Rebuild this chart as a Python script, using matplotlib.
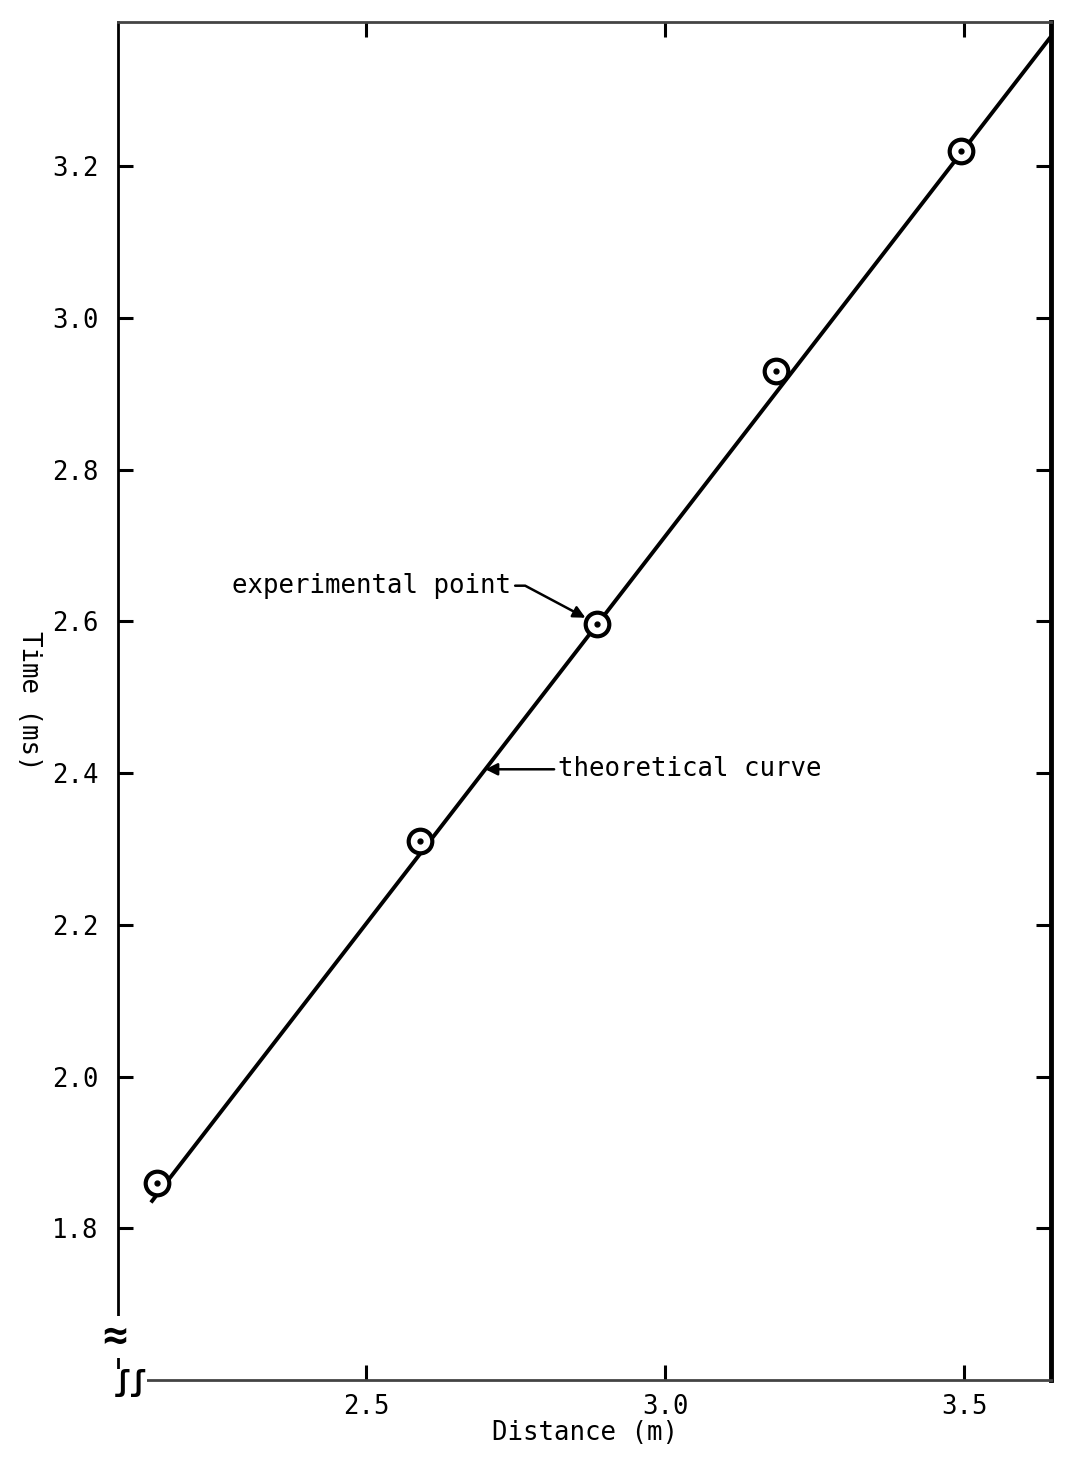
import numpy as np
import matplotlib
matplotlib.use("Agg")
from matplotlib import pyplot as plt

# measured points (distance in m, time in ms)
distance = [2.15, 2.59, 2.885, 3.185, 3.495]
time_ms = [1.86, 2.31, 2.597, 2.93, 3.22]

# theoretical straight line, two end points
line_x = [2.14, 3.645]
line_y = [1.834, 3.371]

xticks = [2.5, 3.0, 3.5]
yticks = [1.8, 2.0, 2.2, 2.4, 2.6, 2.8, 3.0, 3.2]

plt.rcParams['font.family'] = ['DejaVu Sans Mono']
fs = 18.5

fig = plt.figure(figsize=(10.84, 14.58), dpi=100)
ax = fig.add_axes([0.1089, 0.0535, 0.8607, 0.9314])

ax.plot(line_x, line_y, color='black', lw=2.8, solid_capstyle='butt', zorder=2)
ax.plot(distance, time_ms, 'o', ms=17, mfc='white', mec='black', mew=3, zorder=3)
ax.plot(distance, time_ms, 'o', ms=3.5, color='black', zorder=4)

ax.set_xlim(2.085, 3.645)
ax.set_ylim(1.6, 3.39)

ax.set_xticks(xticks)
ax.set_xticklabels(['%.1f' % v for v in xticks])
ax.set_yticks(yticks)
ax.set_yticklabels(['%.1f' % v for v in yticks])
ax.tick_params(direction='in', length=11, width=2.2, labelsize=fs,
               top=True, right=True, pad=10)
ax.tick_params(axis='y', pad=14)

for s in ax.spines.values():
    s.set_linewidth(2)
ax.spines['right'].set_linewidth(3.5)
ax.spines['top'].set_color('#444444')
ax.spines['bottom'].set_color('#444444')

ax.set_xlabel('Distance (m)', fontsize=fs, labelpad=0)
ax.set_ylabel('Time (ms)', fontsize=fs, rotation=-90, va='center', ha='center')
ax.yaxis.set_label_coords(-0.095, 0.5)

# annotations
ax.annotate('experimental point', xy=(distance[2], time_ms[2]),
            xytext=(distance[2] - 0.143, time_ms[2] + 0.05),
            ha='right', va='center', fontsize=fs,
            arrowprops=dict(arrowstyle='-|>', color='black', lw=1.8,
                            mutation_scale=18, shrinkA=1, shrinkB=9,
                            connectionstyle='angle,angleA=0,angleB=-28,rad=0'))

tip_y = 2.405
tip_x = line_x[0] + (tip_y - line_y[0]) * (line_x[1] - line_x[0]) / (line_y[1] - line_y[0])
ax.annotate('theoretical curve', xy=(tip_x, tip_y),
            xytext=(tip_x + 0.122, tip_y),
            ha='left', va='center', fontsize=fs,
            arrowprops=dict(arrowstyle='-|>', color='black', lw=1.8,
                            mutation_scale=18, shrinkA=1, shrinkB=0))

# axis break marks at lower left corner
ax.text(-0.004, 0.032, '\u2248', transform=ax.transAxes, fontsize=30,
        ha='center', va='center', fontweight='bold',
        bbox=dict(facecolor='white', edgecolor='none', pad=0))
ax.text(0.013, -0.002, '\u0283\u0283', transform=ax.transAxes, fontsize=20,
        ha='center', va='center', fontweight='bold',
        bbox=dict(facecolor='white', edgecolor='none', pad=0))

fig.savefig('out.png', dpi=100)
